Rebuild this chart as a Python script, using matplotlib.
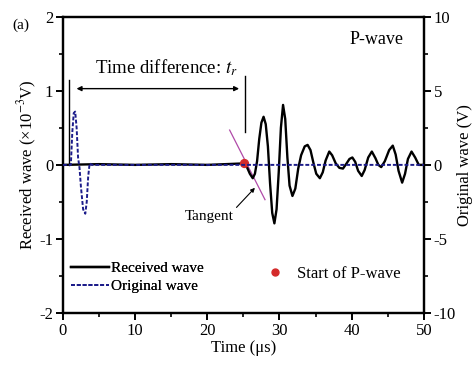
import matplotlib
matplotlib.use("Agg")
import matplotlib.pyplot as plt
from matplotlib.lines import Line2D
from matplotlib.ticker import MultipleLocator

plt.rcParams['font.family'] = ['Liberation Serif', 'DejaVu Serif']
plt.rcParams['mathtext.fontset'] = 'stix'
plt.rcParams['axes.unicode_minus'] = False

# received wave (x10^-3 V)
t_rec = [0, 5, 10, 15, 20, 25.1, 25.5, 25.9, 26.3, 26.6, 26.9, 27.2, 27.5, 27.8, 28.1,
         28.4, 28.7, 29.0, 29.3, 29.6, 29.9, 30.2, 30.5, 30.8, 31.1, 31.4, 31.8,
         32.2, 32.6, 33.0, 33.5, 33.9, 34.3, 34.7, 35.1, 35.6, 36.0, 36.4, 36.9,
         37.3, 37.8, 38.3, 38.8, 39.3, 39.7, 40.1, 40.5, 40.9, 41.4, 41.8, 42.3,
         42.8, 43.3, 43.7, 44.1, 44.6, 45.2, 45.7, 46.1, 46.5, 47.0, 47.4, 47.8,
         48.3, 48.8, 49.3, 49.8]
v_rec = [0, 0.01, 0, 0.01, 0, 0.02, -0.03, -0.12, -0.18, -0.12, 0.05, 0.35, 0.57, 0.65, 0.55,
         0.25, -0.25, -0.65, -0.79, -0.6, -0.1, 0.5, 0.81, 0.62, 0.1, -0.28, -0.42,
         -0.32, -0.05, 0.13, 0.25, 0.27, 0.2, 0.03, -0.12, -0.18, -0.1, 0.06, 0.18,
         0.13, 0.02, -0.04, -0.05, 0.02, 0.08, 0.10, 0.04, -0.08, -0.15, -0.07, 0.1,
         0.18, 0.09, 0.0, -0.03, 0.05, 0.2, 0.26, 0.14, -0.08, -0.24, -0.12, 0.08,
         0.18, 0.1, 0.0, 0.0]

# original (input) wave in V
t_orig = [0, 1.1, 1.3, 1.5, 1.7, 1.9, 2.1, 2.3, 2.5, 2.8, 3.1, 3.3, 3.5, 3.7, 4.0, 50]
v_orig = [0, 0, 2.2, 3.5, 3.6, 2.5, 0.5, -0.2, -1.5, -3.0, -3.3, -2.5, -0.8, 0.1, 0, 0]

t_start, v_start = 25.1, 0.02
tangent_t = [23.1, 28.0]
tangent_v = [0.47, -0.47]

fig = plt.figure(figsize=(4.73, 3.66), dpi=100)
ax = fig.add_axes([0.133, 0.145, 0.763, 0.809])
ax2 = ax.twinx()

ax.plot(t_rec, v_rec, color="k", lw=1.7, zorder=3)
ax2.plot(t_orig, v_orig, color="#1c1c8a", lw=1.4, ls=(0, (2, 1)), zorder=4)
ax.plot(tangent_t, tangent_v, color="#b04aa8", lw=0.9, zorder=2)
ax.scatter([t_start], [v_start], color="#d42a2a", s=32, zorder=6)

ax.set_xlim(0, 50)
ax.set_ylim(-2, 2)
ax2.set_ylim(-10, 10)
ax.xaxis.set_major_locator(MultipleLocator(10))
ax.xaxis.set_minor_locator(MultipleLocator(5))
ax.yaxis.set_major_locator(MultipleLocator(1))
ax.yaxis.set_minor_locator(MultipleLocator(0.5))
ax2.yaxis.set_major_locator(MultipleLocator(5))
ax2.yaxis.set_minor_locator(MultipleLocator(2.5))

for a in (ax, ax2):
    for s in a.spines.values():
        s.set_linewidth(1.6)
    a.tick_params(which="major", direction="out", length=5, width=1.4, labelsize=12, pad=2)
    a.tick_params(which="minor", direction="out", length=3, width=1.2)

ax.set_xlabel("Time (μs)", fontsize=12, labelpad=1)
ax.set_ylabel("Received wave (×10$^{-3}$V)", fontsize=12, labelpad=0)
ax2.set_ylabel("Original wave (V)", fontsize=12, labelpad=1)

# time difference annotation
ax.plot([0.9, 0.9], [0, 1.15], color="k", lw=1.0)
ax.plot([25.2, 25.2], [0.45, 1.2], color="k", lw=1.0)
ax.annotate("", xy=(1.5, 1.03), xytext=(24.8, 1.03),
            arrowprops=dict(arrowstyle="<|-|>", color="k", lw=1.0, mutation_scale=7))
ax.text(14.3, 1.31, "Time difference: $t_r$", ha="center", va="center", fontsize=13.5)
ax.text(43.5, 1.69, "P-wave", ha="center", va="center", fontsize=13)

ax.annotate("Tangent", xy=(26.6, -0.31), xytext=(20.3, -0.7), ha="center", va="center",
            fontsize=11,
            arrowprops=dict(arrowstyle="-|>", color="k", lw=0.8, mutation_scale=6,
                            shrinkA=0, shrinkB=0, relpos=(1, 1)))

fig.text(0.027, 0.932, "(a)", fontsize=11, ha="left", va="center")

h1 = [Line2D([], [], color="k", lw=1.7),
      Line2D([], [], color="#1c1c8a", lw=1.4, ls=(0, (2, 1)))]
leg1 = ax.legend(h1, ["Received wave", "Original wave"], loc="lower left",
                 bbox_to_anchor=(-0.015, 0.02), frameon=False, fontsize=11,
                 handlelength=2.5, handletextpad=0.1, labelspacing=0.3)
ax.add_artist(leg1)
h2 = [Line2D([], [], color="#d42a2a", marker="o", ls="none", ms=5)]
ax2.legend(h2, ["Start of P-wave"], loc="lower left", bbox_to_anchor=(0.5, 0.055),
           frameon=False, fontsize=12, handletextpad=0.3)

fig.savefig("out.png", dpi=100)
